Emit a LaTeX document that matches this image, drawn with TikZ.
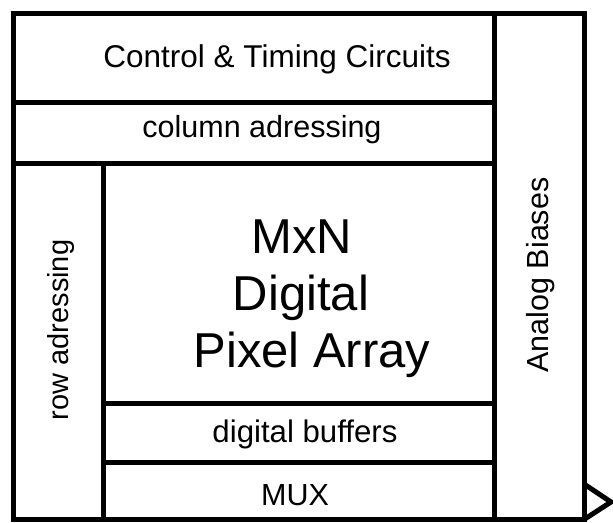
\documentclass[tikz,border=0pt]{standalone}
\usepackage{fontspec}
\setmainfont{Liberation Sans}
\begin{document}
\begin{tikzpicture}[x=1pt,y=-1pt,
  wall/.style={draw=black,line width=5pt},
  lbl/.style={font=\fontsize{30.5}{36}\selectfont, inner sep=0pt, anchor=base},
  big/.style={font=\fontsize{49}{58}\selectfont, inner sep=0pt, anchor=base}]
\useasboundingbox (0,0) rectangle (613,522);
\fill[white] (0,0) rectangle (613,522);
% blocks
\draw[wall] (13.5,13.5) rectangle (584,519.5);
\draw[wall] (494,13.5) -- (494,519.5);
\draw[wall] (13.5,102) -- (494,102);
\draw[wall] (13.5,163) -- (494,163);
\draw[wall] (103,163) -- (103,519.5);
\draw[wall] (103,403) -- (494,403);
\draw[wall] (103,462) -- (494,462);
% output arrow
\draw[wall, line join=miter] (584,484) -- (611,502) -- (584,519.5);
% labels
\node[lbl, font=\fontsize{31.5}{37}\selectfont] (ctrl) at (277,67) {Control \& Timing Circuits};
\node[lbl] (col) at (262,137) {column adressing};
\node[big] (l1) at (302,253) {MxN};
\node[big] (l2) at (301,310) {Digital};
\node[big] (l3) at (312,367) {Pixel Array};
\node[lbl, font=\fontsize{31.2}{37}\selectfont] (buf) at (305,442) {digital buffers};
\node[lbl] (mux) at (295,505) {MUX};
\node[lbl, rotate=90, font=\fontsize{29}{34}\selectfont] (row) at (68,330) {row adressing};
\node[lbl, rotate=90] (bias) at (548,275) {Analog Biases};
\end{tikzpicture}
\end{document}
